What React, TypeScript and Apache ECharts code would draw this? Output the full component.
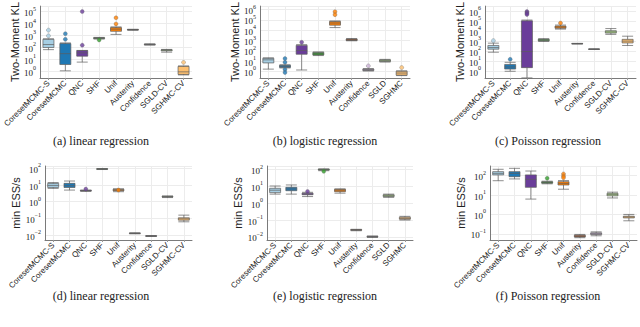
import React, { useEffect, useRef } from 'react';
import * as echarts from 'echarts';

// ---------- data ----------
const catsCV = ['CoresetMCMC-S', 'CoresetMCMC', 'QNC', 'SHF', 'Unif', 'Austerity', 'Confidence', 'SGLD-CV', 'SGHMC-CV'];
const catsLogistic = ['CoresetMCMC-S', 'CoresetMCMC', 'QNC', 'SHF', 'Unif', 'Austerity', 'Confidence', 'SGLD', 'SGHMC'];
const methodColors = ['#a6cee3', '#1f78b4', '#6a3d9a', '#33a02c', '#ff7f00', '#b15928', '#cab2d6', '#b2df8a', '#fdbf6f'];

// [min, Q1, median, Q3, max]
const klLinearBox = [
  [65, 98, 174, 480, 525],
  [1.1, 3.7, 30, 210, 240],
  [5.9, 18.6, 35, 54, 56],
  [500, 550, 600, 645, 690],
  [1230, 2240, 3400, 4570, 5250],
  [2750, 2880, 3020, 3160, 3310],
  [158, 166, 174, 186, 200],
  [40, 52, 59, 63, 68],
  [0.5, 0.55, 0.9, 2.6, 2.8],
];
const klLinearOut = [[0, 2800], [0, 930], [1, 1400], [1, 480], [2, 100000], [2, 155], [3, 420], [4, 30000], [4, 9300], [8, 5.6]];

const klLogisticBox = [
  [1.7, 6.8, 13.5, 19, 21],
  [2.2, 2.5, 3.2, 4, 4.5],
  [1.4, 47, 107, 340, 400],
  [35, 40, 52, 71, 79],
  [18000, 31000, 50000, 71000, 79000],
  [950, 1000, 1180, 1410, 1580],
  [1.12, 1.23, 1.48, 1.74, 1.9],
  [8.3, 9.1, 11.2, 13.5, 15],
  [0.4, 0.44, 0.71, 1.07, 1.15],
];
const klLogisticOut = [[1, 17.8], [1, 7.9], [1, 1.6], [1, 0.8], [2, 680], [4, 630000], [4, 320000], [6, 3.5], [8, 2.4]];

const klPoissonBox = [
  [79, 158, 229, 372, 630],
  [1.0, 1.66, 2.7, 4.8, 7.8],
  [0.22, 2.3, 91, 105000, 126000],
  [930, 1070, 1260, 1510, 1780],
  [15800, 19000, 25000, 31600, 39800],
  [525, 537, 562, 575, 603],
  [148, 155, 158, 162, 170],
  [4700, 6300, 8300, 11000, 17800],
  [370, 660, 1000, 1510, 3100],
];
const klPoissonOut = [[0, 1120], [1, 15.5], [2, 890000], [2, 710000], [2, 560000], [2, 450000], [4, 63000]];

const essLinearBox = [
  [6.3, 7.2, 9.5, 12.6, 14.1],
  [5.0, 7.1, 9.1, 12.6, 17.4],
  [4.2, 4.4, 4.6, 4.8, 5.0],
  [85, 89, 91, 93, 98],
  [4.0, 4.6, 5.0, 5.5, 6.0],
  [0.012, 0.0126, 0.0129, 0.0132, 0.0138],
  [0.0083, 0.0087, 0.0089, 0.0091, 0.0095],
  [1.78, 1.9, 2.0, 2.1, 2.24],
  [0.063, 0.079, 0.095, 0.11, 0.158],
];
const essLinearOut = [[2, 5.75], [4, 5.0]];

const essLogisticBox = [
  [3.5, 4.3, 6.0, 7.8, 10.7],
  [3.5, 5.6, 7.1, 8.9, 12.3],
  [2.5, 3.2, 3.5, 4.0, 4.5],
  [87, 95, 100, 107, 112],
  [4.0, 4.9, 6.0, 6.8, 7.2],
  [0.023, 0.0245, 0.0257, 0.0269, 0.028],
  [0.0091, 0.0098, 0.0102, 0.0107, 0.0112],
  [2.24, 2.5, 2.8, 3.2, 3.5],
  [0.1, 0.112, 0.126, 0.148, 0.166],
];
const essLogisticOut = [[2, 5.0], [3, 80]];

const essPoissonBox = [
  [55, 110, 132, 162, 214],
  [68, 89, 132, 162, 240],
  [6.2, 25, 65, 110, 174],
  [38, 41, 44, 49, 52],
  [20, 33, 40, 49, 56],
  [0.063, 0.069, 0.076, 0.085, 0.093],
  [0.079, 0.091, 0.1, 0.112, 0.126],
  [7.1, 9.1, 10.5, 12.3, 14.1],
  [0.47, 0.66, 0.74, 0.81, 1.0],
];
const essPoissonOut = [[3, 74], [4, 123], [4, 95], [4, 79]];

const yTitles = ['Two-Moment KL', 'min ESS/s'];
const captions = ['(a) linear regression', '(b) logistic regression', '(c) Poisson regression', '(d) linear regression', '(e) logistic regression', '(f) Poisson regression'];

// ---------- layout ----------
const SANS = "'Liberation Sans', Arial, sans-serif";
const SERIF = "'Liberation Serif', 'DejaVu Serif', serif";

const panels = [
  { cats: catsCV, box: klLinearBox, out: klLinearOut, title: yTitles[0], yMin: -0.56, yMax: 5.46, grid: { left: 40, top: 0, width: 152, height: 78 }, gap: 18, cap: captions[0], cx: 101, cy: 141 },
  { cats: catsLogistic, box: klLogisticBox, out: klLogisticOut, title: yTitles[0], yMin: -0.63, yMax: 6.34, grid: { left: 260, top: 0, width: 150, height: 78 }, gap: 17, cap: captions[1], cx: 325, cy: 141 },
  { cats: catsCV, box: klPoissonBox, out: klPoissonOut, title: yTitles[0], yMin: -0.67, yMax: 6.49, grid: { left: 485, top: 0, width: 151, height: 78 }, gap: 19, cap: captions[2], cx: 548, cy: 141 },
  { cats: catsCV, box: essLinearBox, out: essLinearOut, title: yTitles[1], yMin: -2.29, yMax: 2.14, grid: { left: 45, top: 166, width: 147, height: 74 }, gap: 23, cap: captions[3], cx: 101, cy: 296 },
  { cats: catsLogistic, box: essLogisticBox, out: essLogisticOut, title: yTitles[1], yMin: -2.19, yMax: 2.22, grid: { left: 267, top: 166, width: 146, height: 74 }, gap: 24, cap: captions[4], cx: 325, cy: 296 },
  { cats: catsCV, box: essPoissonBox, out: essPoissonOut, title: yTitles[1], yMin: -1.32, yMax: 2.5, grid: { left: 490, top: 166, width: 147, height: 74 }, gap: 24, cap: captions[5], cx: 548, cy: 296 },
];

const supLabel = (v: number) => {
  const l = Math.log10(v);
  const e = Math.round(l);
  if (Math.abs(l - e) > 1e-3) return '';
  return `{b|10}{s|${e < 0 ? '−' + -e : e}}`;
};

function buildOption() {
  const grid: any[] = [];
  const xAxis: any[] = [];
  const yAxis: any[] = [];
  const series: any[] = [];
  const graphic: any[] = [];
  panels.forEach((p, i) => {
    grid.push({ ...p.grid, containLabel: false });
    xAxis.push({
      type: 'category',
      gridIndex: i,
      data: p.cats,
      axisLine: { lineStyle: { color: '#7a7a7a', width: 1 } },
      axisTick: { show: true, alignWithLabel: true, length: 2, lineStyle: { color: '#999' } },
      axisLabel: { interval: 0, rotate: 45, fontSize: 8, fontFamily: SANS, color: '#222', margin: 4 },
      splitLine: { show: true, alignWithLabel: true, lineStyle: { color: '#ececec', width: 1 } },
    });
    yAxis.push({
      type: 'log',
      logBase: 10,
      gridIndex: i,
      min: Math.pow(10, p.yMin),
      max: Math.pow(10, p.yMax),
      name: p.title,
      nameLocation: 'middle',
      nameGap: p.gap,
      nameTextStyle: { fontSize: 11, fontFamily: SANS, color: '#222' },
      axisLine: { show: true, lineStyle: { color: '#7a7a7a', width: 1 } },
      axisTick: { show: false },
      splitLine: { show: true, lineStyle: { color: '#ececec', width: 1 } },
      axisLabel: {
        formatter: supLabel,
        margin: 4,
        showMinLabel: true,
        showMaxLabel: true,
        rich: {
          b: { fontFamily: SERIF, fontSize: 9, color: '#222', verticalAlign: 'bottom', lineHeight: 12 },
          s: { fontFamily: SERIF, fontSize: 6, color: '#222', verticalAlign: 'top', lineHeight: 12 },
        },
      },
    });
    series.push({
      type: 'boxplot',
      xAxisIndex: i,
      yAxisIndex: i,
      boxWidth: [11, 11],
      data: p.box.map((b, k) => ({
        value: b,
        itemStyle: { color: methodColors[k], borderColor: '#5c5c5c', borderWidth: 0.7 },
      })),
      z: 3,
    });
    series.push({
      type: 'scatter',
      xAxisIndex: i,
      yAxisIndex: i,
      symbolSize: 4,
      data: p.out.map(([k, v]) => ({
        value: [k, v],
        itemStyle: { color: methodColors[k], borderColor: '#666', borderWidth: 0.4 },
      })),
      z: 4,
    });
    graphic.push({
      type: 'text',
      x: p.cx,
      y: p.cy,
      style: { text: p.cap, fontFamily: SERIF, fontSize: 12, fill: '#222', textAlign: 'center', textVerticalAlign: 'middle' },
    });
  });
  return { animation: false, grid, xAxis, yAxis, series, graphic };
}

export default function App() {
  const ref = useRef<HTMLDivElement>(null);
  useEffect(() => {
    document.body.style.margin = '0';
    const chart = echarts.init(ref.current!, undefined, { renderer: 'svg' });
    chart.setOption(buildOption() as any);
    return () => chart.dispose();
  }, []);
  return <div ref={ref} style={{ position: 'absolute', left: 0, top: 0, width: 640, height: 327, background: '#fff' }} />;
}
